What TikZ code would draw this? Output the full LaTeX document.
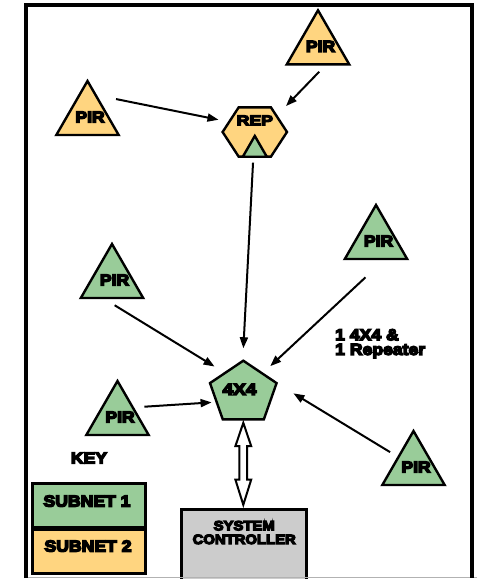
\documentclass[tikz,border=0pt]{standalone}
\usepackage{fontspec}
\usetikzlibrary{shapes.geometric,arrows.meta}
\newfontfamily\hv{Liberation Sans Bold}[FakeStretch=1.1,FakeBold=9]
\definecolor{sgreen}{HTML}{99CC99}
\definecolor{sorange}{HTML}{FFD580}
\definecolor{cgray}{HTML}{CCCCCC}
\newcommand{\bigfont}{\hv\fontsize{16}{19}\selectfont}
\newcommand{\smallfont}{\hv\fontsize{13.5}{13.7}\selectfont}
\tikzset{
  pir/.style={regular polygon, regular polygon sides=3, minimum size=72pt, inner sep=0pt, outer sep=0pt, draw, line width=2.4pt, font=\bigfont},
  sone/.style={fill=sgreen},
  stwo/.style={fill=sorange},
  keybox/.style={rectangle, draw, line width=3pt, minimum width=113.4pt, inner sep=0pt, outer sep=0pt, font=\bigfont},
  arr/.style={line width=2pt, -{Triangle[length=11pt,width=8pt]}},
}
\begin{document}
\begin{tikzpicture}[x=1pt,y=-1pt]
\useasboundingbox (0,0) rectangle (477,579);
\fill[white] (0,0) rectangle (477,579);

% sensors, subnet 2
\node[pir,stwo] (pirT) at (318,46.3) {\makebox[0pt]{\hspace{5pt}PIR}};
\node[pir,stwo] (pirL) at (87.5,117) {\makebox[0pt]{\hspace{5pt}PIR}};
% repeater
\begin{scope}[shift={(254.8,132)}]
\node[regular polygon, regular polygon sides=6, minimum size=64.4pt, yscale=0.885, draw, line width=2.4pt, stwo, inner sep=0pt, outer sep=0pt, text depth=26.4pt, font=\bigfont] (rep) at (0,0) {\makebox[0pt]{REP}};
\end{scope}
\node[pir,sone,minimum size=27.7pt] (repTri) at (254.8,149.8) {};
% sensors, subnet 1
\node[pir,sone] (pirGR) at (376,241) {\makebox[0pt]{\hspace{5pt}PIR}};
\node[pir,sone] (pirGL) at (112,280) {\makebox[0pt]{\hspace{5pt}PIR}};
\node[pir,sone] (pirGLL) at (117.5,417) {\makebox[0pt]{\hspace{5pt}PIR}};
\node[pir,sone] (pirGBR) at (413.5,467) {\makebox[0pt]{\hspace{5pt}PIR}};
% 4x4
\begin{scope}[shift={(243.3,393.1)}]
\node[regular polygon, regular polygon sides=5, minimum size=64.8pt, xscale=1.08, draw, line width=2.4pt, sone, inner sep=0pt, outer sep=0pt, text depth=7.6pt, font=\bigfont] (pent) at (0,0) {\makebox[0pt]{4X4\hspace{7pt}}};
\end{scope}

% note
\node[anchor=north west, align=left, inner sep=0pt, font=\hv\fontsize{16}{14.6}\selectfont] (note) at (335,329) {1 4X4 \&\\1 Repeater};

% key
\node[font=\bigfont, inner sep=0pt] (key) at (89,458) {KEY};
\node[keybox, sone, minimum height=44.7pt, text depth=9.2pt] (sub1) at (89,505.6) {\makebox[0pt]{SUBNET 1\hspace{4pt}}};
\node[keybox, stwo, minimum height=43.8pt, text depth=10.8pt] (sub2) at (89,551.4) {\makebox[0pt]{SUBNET 2\hspace{2pt}}};

% system controller
\node[rectangle, draw, line width=3pt, fill=cgray, minimum width=125pt, minimum height=76pt, anchor=north, inner sep=0pt, outer sep=0pt,
  label={[font=\smallfont, align=center, anchor=north, inner sep=0pt, yshift=-11.4pt]north:{SYSTEM\\CONTROLLER}}] (ctrl) at (244.2,509.3) {};

% connectors
\draw[arr, shorten <=20.96pt, shorten >=10.91pt] (pirL.70.28) -- (rep.156.76);
\draw[arr, shorten <=10.32pt, shorten >=13.7pt] (pirT.295.25) -- (rep.40.15);
\draw[arr, shorten <=6.01pt, shorten >=12.83pt] (rep.267.58) -- (pent.91.15);
\draw[arr, shorten <=13.88pt, shorten >=12.31pt] (pirGL.243.92) -- (pent.130.61);
\draw[arr, shorten <=26.92pt, shorten >=10.79pt] (pirGR.297.68) -- (pent.48.79);
\draw[arr, shorten <=11.59pt, shorten >=5.11pt] (pirGLL.32.25) -- (pent.200.55);
\draw[arr, shorten <=9.71pt, shorten >=19.7pt] (pirGBR.147.95) -- (pent.18);

% hollow double arrow between 4X4 and controller
\draw[line width=2pt, fill=white] ([yshift=-3.5pt]pent.south) -- ++(7.9,23.3) -- ++(-4,0) -- ++(0,33.5) -- ++(4,0) -- ++(-7.9,25.2) -- ++(-7.9,-25.2) -- ++(4,0) -- ++(0,-33.5) -- ++(-4,0) -- cycle;

% frame
\draw[gray!60, line width=1pt] (26,577.7) -- (477,577.7);
\draw[line width=3.8pt] (26,578) -- (26,5.3) -- (472,5.3) -- (472,578);
\end{tikzpicture}
\end{document}
